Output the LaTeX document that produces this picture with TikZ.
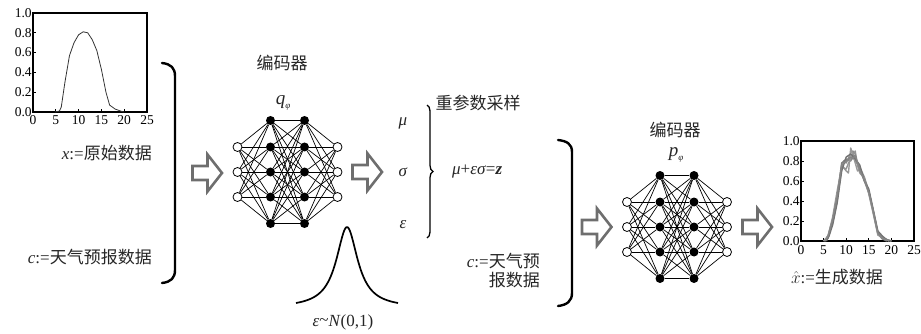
\documentclass[tikz,border=0pt]{standalone}
\usepackage{fontspec}
\setmainfont{Liberation Serif}
\newfontfamily\cjk{Noto Sans CJK SC}
\usetikzlibrary{decorations.pathreplacing,backgrounds}
\begin{document}
\begin{tikzpicture}[x=1pt,y=-1pt,
  innode/.style={circle,draw,fill=white,minimum size=9pt,inner sep=0pt,line width=0.8pt},
  hidnode/.style={circle,fill=black,minimum size=9pt,inner sep=0pt},
  netedge/.style={line width=0.7pt},
  harrow/.style={draw=black!57,line width=2.6pt,line join=miter},
  bracketline/.style={line width=2.4pt,line cap=round},
  lbl/.style={font=\fontsize{17}{19}\selectfont,inner sep=0pt,text=black!85},
  ticklbl/.style={font=\fontsize{13.5}{14}\selectfont,inner sep=0pt},
  axisbox/.style={line width=1.1pt},
  hollow/.pic={\draw[harrow] (-15,-7) -- (0,-7) -- (0,-18.5) -- (14.5,0) -- (0,18.5) -- (0,7) -- (-15,7) -- cycle;}
]
\useasboundingbox (0,0) rectangle (921,334);

% ---------- left chart ----------
\begin{scope}[shift={(33,112)},xscale=4.56,yscale=-99]
  \draw[axisbox] (0,0) rectangle (25,1);
  \foreach \t in {5,10,15,20} \draw[line width=0.8pt] (\t,0) -- (\t,0.035);
  \foreach \v in {0.2,0.4,0.6,0.8} \draw[line width=0.8pt] (0,\v) -- (0.7,\v);
  \foreach \t in {0,5,10,15,20,25} \node[ticklbl,anchor=base] (lx\t) at (\t,-0.13) {\t};
  \foreach \v/\l in {0/0.0,0.2/0.2,0.4/0.4,0.6/0.6,0.8/0.8,1/1.0} \node[ticklbl,anchor=east] (ly\l) at (-0.25,\v) {\l};
  \draw[line width=0.8pt,black!80] plot coordinates {(4.8,0) (5.8,0.01) (6.2,0.05) (7,0.3) (8,0.57) (9,0.7) (10,0.78) (11,0.81) (12,0.8) (13,0.73) (14,0.62) (15,0.43) (16,0.2) (16.8,0.07) (18,0.03) (19.5,0.005) (20,0)};
\end{scope}

% ---------- left bracket and labels ----------
\draw[bracketline] (162,63) .. controls (171,64) and (175,68) .. (175,76) -- (175,270) .. controls (175,278) and (171,282) .. (162,283);
\node[lbl,anchor=east] (xlab) at (152,153) {\textit{x}:=\cjk 原始数据};
\node[lbl,anchor=east] (clab) at (152,257) {\textit{c}:=\cjk 天气预报数据};

% ---------- hollow arrows ----------
\pic at (207.5,173) {hollow};
\pic at (367.5,172) {hollow};
\pic at (597,227) {hollow};
\pic at (757.5,227) {hollow};

% ---------- networks ----------
\foreach \p/\cx/\cy in {e/287.5/172, d/677/227} {
  \foreach \j/\dy in {1/-25,2/0,3/25} {
    \node[innode] (\p i\j) at (\cx-50,\cy+\dy) {};
    \node[innode] (\p o\j) at (\cx+50,\cy+\dy) {};
  }
  \foreach \j/\dy in {1/-51.5,2/-25,3/0,4/25,5/51.5} {
    \node[hidnode] (\p a\j) at (\cx-17,\cy+\dy) {};
    \node[hidnode] (\p b\j) at (\cx+17,\cy+\dy) {};
  }
  \begin{pgfonlayer}{background}
    \foreach \i in {1,2,3} \foreach \j in {1,...,5} {
      \draw[netedge] (\p i\i) -- (\p a\j);
      \draw[netedge] (\p b\j) -- (\p o\i);
    }
    \foreach \i in {1,...,5} \foreach \j in {1,...,5} \draw[netedge] (\p a\i) -- (\p b\j);
  \end{pgfonlayer}
}
\node[lbl] (enctitle) at (282,63) {\cjk 编码器};
\node[lbl,font=\fontsize{19}{20}\selectfont] (qphi) at (283,103) {\textit{q}\raisebox{-0.35ex}{\fontsize{9}{10}\selectfont\textit{φ}}};
\node[lbl] (dectitle) at (675,130) {\cjk 编码器};
\node[lbl,font=\fontsize{19}{20}\selectfont] (pphi) at (676,155) {\textit{p}\raisebox{-0.35ex}{\fontsize{9}{10}\selectfont\textit{φ}}};

% ---------- reparameterisation ----------
\node[lbl] (mu) at (403,123) {\textit{μ}};
\node[lbl] (sigma) at (403,172) {\textit{σ}};
\node[lbl] (eps) at (403,225) {\textit{ε}};
\draw[line width=1.3pt,decorate,decoration={brace,amplitude=6pt}] (427,105) -- (427,238);
\node[lbl] (reptitle) at (478,103) {\cjk 重参数采样};
\node[lbl,anchor=west] (zeq) at (452,172) {\textit{μ}+\textit{εσ}=\textbf{\textit{z}}};

% ---------- bell curve ----------
\draw[line width=1.7pt] plot[domain=-51:51,samples=120,smooth] ({347+\x},{303-76*(1/(1+(\x/13)^2)-0.061)/0.939});
\node[lbl] (nlab) at (343,322) {\textit{ε}\raisebox{0.1ex}{\textasciitilde}\textit{N}(0,1)};

% ---------- middle bracket ----------
\draw[bracketline] (558,140) .. controls (567,141) and (572,144) .. (572,152) -- (572,293) .. controls (572,301) and (567,305) .. (558,306);
\node[lbl,align=right,anchor=east] (c2lab) at (540,271) {\textit{c}:=\cjk 天气预\\\cjk 报数据};

% ---------- right chart ----------
\begin{scope}[shift={(801,241)},xscale=4.52,yscale=-100]
  \draw[axisbox] (0,0) rectangle (25,1);
  \foreach \t in {5,10,15,20} \draw[line width=0.8pt] (\t,0) -- (\t,0.035);
  \foreach \v in {0.2,0.4,0.6,0.8} \draw[line width=0.8pt] (0,\v) -- (0.7,\v);
  \foreach \t in {0,5,10,15,20,25} \node[ticklbl,anchor=base] (rx\t) at (\t,-0.13) {\t};
  \foreach \v/\l in {0/0.0,0.2/0.2,0.4/0.4,0.6/0.6,0.8/0.8,1/1.0} \node[ticklbl,anchor=east] (ry\l) at (-0.25,\v) {\l};
  \begin{scope}[line width=1.4pt,line join=round]
  \draw[black!45] plot coordinates {(5,0) (5.5,0.02) (6,0.06) (7,0.22) (8,0.42) (9,0.72) (9.5,0.8) (10,0.78) (11,0.88) (11.5,0.9) (12,0.8) (13,0.74) (14,0.64) (15,0.5) (16,0.3) (17,0.09) (18,0.04) (19,0.015) (20,0)};
  \draw[black!40] plot coordinates {(5.2,0) (6,0.04) (7,0.18) (8,0.4) (9,0.76) (10,0.7) (10.5,0.68) (11,0.93) (12,0.78) (12.5,0.7) (13,0.72) (14,0.6) (15,0.48) (16,0.28) (17,0.08) (18,0.03) (19.5,0)};
  \draw[black!50] plot coordinates {(5.4,0) (6,0.03) (7,0.2) (8,0.45) (9,0.78) (10,0.82) (11,0.8) (11.5,0.86) (12,0.84) (13,0.7) (14,0.62) (15,0.5) (16,0.29) (17,0.07) (18,0.02) (19,0)};
  \draw[black!42] plot coordinates {(5,0) (6,0.05) (7,0.24) (8,0.5) (9,0.74) (10,0.72) (10.5,0.78) (11,0.82) (12,0.9) (12.5,0.76) (13,0.68) (14,0.63) (15,0.47) (16,0.27) (17,0.06) (18.5,0.02) (20,0)};
  \draw[black!55] plot coordinates {(5.6,0) (6.2,0.05) (7,0.16) (8,0.38) (9,0.7) (10,0.84) (11,0.87) (12,0.82) (13,0.76) (14,0.6) (15,0.52) (16,0.31) (17,0.1) (18,0.05) (19,0.01) (20,0)};
  \draw[black!48] plot coordinates {(5.3,0) (6,0.05) (7,0.21) (8,0.44) (9,0.76) (10,0.8) (11,0.84) (11.5,0.82) (12,0.86) (13,0.71) (14,0.61) (15,0.49) (16,0.3) (17,0.08) (18,0.03) (19.5,0)};
  \end{scope}
\end{scope}
\node[lbl] (xhat) at (837,277) {$\hat{x}$:=\cjk 生成数据};

\end{tikzpicture}
\end{document}
